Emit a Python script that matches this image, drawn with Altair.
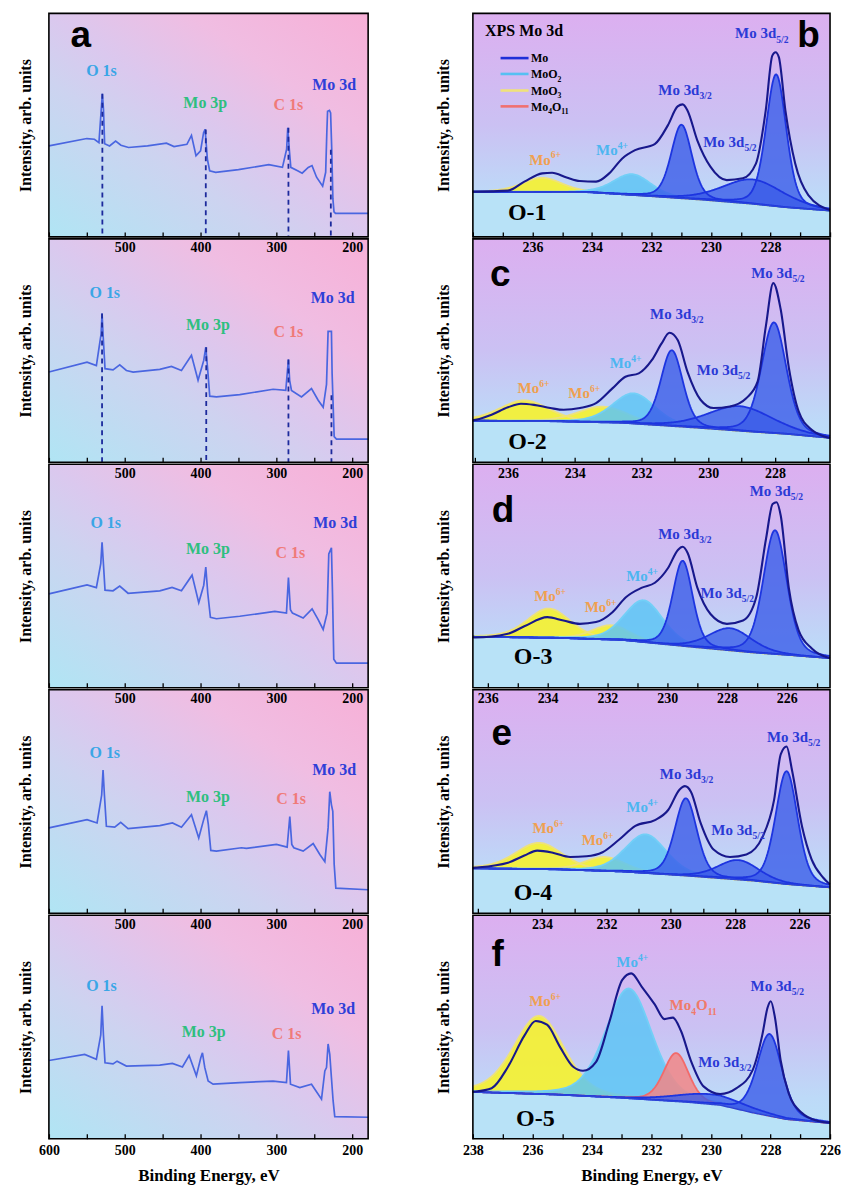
import altair as alt
import numpy as np
import pandas as pd

SERIF = "Liberation Serif"
SANS = "Liberation Sans"
LW, RW, PH = 320, 358, 224

# ================= Survey spectra (left column) =================
s1_be = [600, 550, 540, 534, 531, 529.5, 528, 526.5, 520, 512, 505, 495, 470, 445, 435, 418, 412, 406, 400, 396,
         394, 391, 388, 380, 350, 310, 292, 286.5, 285, 283, 281, 272, 266, 258, 253, 247, 239, 235, 233.5, 232.5,
         230, 228.5, 227, 225.5, 224, 222, 179]
s1_i = [40.7, 44.0, 43.7, 42.2, 56.9, 64.0, 56.9, 41.7, 40.7, 42.9, 41.0, 40.0, 40.7, 41.9, 40.4, 41.4, 45.4, 36.3, 38.5, 46.6,
        48.1, 34.8, 29.6, 28.9, 30.1, 32.3, 31.1, 39.2, 48.8, 39.2, 31.1, 29.6, 28.5, 31.1, 31.9, 26.7, 22.7, 28.9, 46.6, 56.2,
        56.6, 55.5, 39.2, 17.1, 11.2, 10.5, 10.5]

s2_be = [600, 549.7, 537.4, 531.2, 529.9, 528.6, 526, 515.4, 506.6, 497.8, 489, 453.8, 438.4, 425.2, 412, 403.3, 395.8,
         393.1, 390.5, 387.9, 379.1, 348.3, 304.3, 287.6, 285.4, 284.1, 282.5, 280.1, 266.9, 253.7, 244.9, 238.3, 233.9,
         231.8, 227.4, 226.5, 223.8, 220.8, 179]
s2_i = [40.4, 44.8, 43.3, 57.4, 66.6, 57.4, 41.9, 41.4, 43.6, 41.1, 40.4, 41.6, 42.9, 41.1, 47.9, 36.7, 45.6, 51.5, 41.1, 29.6,
        29.3, 30.3, 32.7, 32.2, 41.1, 46.0, 36.7, 32.2, 29.3, 33.0, 27.8, 24.6, 34.9, 58.6, 58.6, 39.6, 11.5, 10.4, 10.4]

s3_be = [600, 549.7, 537.4, 531.6, 529.9, 528.1, 526, 515.4, 506.6, 495.6, 453.8, 437.6, 425.2, 411.2, 402.4, 395.8, 393.1,
         390.5, 387, 379.1, 348.3, 302.1, 286.7, 284.1, 281.5, 278.8, 264.7, 252.9, 244.9, 238.3, 233.1, 230.9, 227.4,
         226, 224.3, 220.8, 179]
s3_i = [42.0, 46.0, 44.8, 55.5, 65.1, 55.5, 43.7, 43.4, 45.5, 42.3, 43.4, 44.9, 43.4, 50.4, 38.1, 45.9, 54.0, 42.3, 31.5, 30.9,
        32.0, 34.2, 33.4, 49.3, 34.9, 33.4, 31.2, 35.3, 30.5, 26.1, 33.4, 59.9, 62.6, 42.3, 12.8, 11.0, 11.0]

s4_be = [600, 549.7, 536.5, 530.4, 528.6, 526.8, 524.2, 513.2, 505.3, 495.6, 453.8, 437.1, 425.2, 412, 402.4, 395.8, 392.3,
         389.7, 386.5, 379.1, 346.1, 339.5, 299.9, 285.8, 282.3, 279.7, 277, 264.7, 251.5, 242.7, 236.1, 231.8, 229.6,
         227.4, 225.6, 223.8, 221.6, 179]
s4_i = [38.2, 41.9, 40.4, 52.9, 64.1, 52.9, 38.9, 38.5, 40.7, 37.9, 39.2, 40.4, 38.5, 44.1, 33.7, 42.0, 45.9, 39.6, 28.1, 27.8,
        29.3, 29.0, 30.8, 29.6, 43.3, 30.8, 29.3, 27.8, 31.2, 26.3, 23.1, 38.2, 54.4, 48.5, 45.6, 21.9, 11.2, 10.5]

s5_be = [600, 552.8, 537.4, 531.6, 529.9, 528.1, 526, 515.4, 510.1, 497.8, 453.8, 437.1, 423.9, 415.1, 405.5, 399.7, 397.5,
         394.4, 390, 383.5, 348.3, 304.3, 286.7, 284.1, 281.4, 269.1, 253.7, 240.5, 236.1, 233.9, 231.8, 229.6, 227.4,
         225.2, 223, 179]
s5_i = [35.0, 37.7, 35.5, 46.5, 59.5, 46.5, 34.0, 33.5, 34.7, 32.5, 32.9, 33.7, 32.1, 37.2, 28.1, 36.2, 38.4, 31.8, 25.8, 24.4,
        25.1, 25.8, 25.1, 39.4, 24.4, 22.9, 24.4, 17.7, 30.3, 31.8, 42.4, 37.7, 27.3, 17.0, 9.9, 9.6]

survey_names = ["O 1s", "Mo 3p", "C 1s", "Mo 3d"]
survey_colors = ["#3aa6e6", "#2fbf7f", "#f07a78", "#2f3fd8"]
lab1_be, lab1_i = [530.7, 393.8, 284.2, 223.7], [71.8, 57.8, 56.8, 65.6]
lab2_be, lab2_i = [526.3, 390.4, 284.2, 225.9], [73.5, 59.3, 56.3, 71.1]
lab3_be, lab3_i = [525.0, 390.4, 281.6, 222.4], [71.7, 59.9, 58.0, 71.7]
lab4_be, lab4_i = [526.3, 390.4, 280.7, 223.7], [69.5, 50.0, 48.8, 61.8]
lab5_be, lab5_i = [530.7, 396.0, 286.4, 225.0], [66.2, 45.6, 44.6, 55.6]

dash1_be, dash1_top = [529.5, 393.1, 284.1, 228.2], [64.0, 48.1, 48.8, 39.0]
dash2_be, dash2_top = [529.9, 392.5, 284.1, 227.4], [66.6, 51.5, 46.0, 30.0]

survey_dom = [179, 600]
survey_ticks = list(range(200, 601, 50))
survey_top_vals = [200, 300, 400, 500]

# ================= Mo 3d high resolution (right column) =================
b_dom, c_dom, d_dom, e_dom, f_dom = (226.0, 238.0), (226.35, 237.05), (224.55, 236.5), (225.05, 236.15), (226.0, 238.0)

b_bg_be = [238.0, 234.08, 231.88, 230.24, 228.59, 227.49, 226.0]
b_bg_i = [20.2, 19.9, 18.0, 16.5, 14.7, 13.2, 11.7]
c_bg_be = [237.05, 234.53, 232.57, 230.62, 228.66, 227.68, 226.35]
c_bg_i = [18.6, 18.3, 17.6, 15.7, 13.6, 12.7, 10.9]
d_bg_be = [236.5, 233.69, 231.5, 229.31, 227.13, 226.03, 224.55]
d_bg_i = [22.8, 22.3, 21.3, 18.4, 15.7, 14.7, 13.2]
e_bg_be = [236.15, 233.54, 231.51, 229.48, 227.45, 226.43, 225.05]
e_bg_i = [20.1, 19.6, 18.6, 16.7, 14.5, 13.0, 11.5]
f_bg_be = [238.0, 235.18, 232.98, 230.78, 229.69, 228.59, 227.49, 226.0]
f_bg_i = [20.9, 19.7, 18.2, 16.3, 15.0, 11.6, 8.7, 6.9]

b_env_be = [238.0, 236.82, 236.27, 235.67, 235.34, 234.85, 234.41, 233.86, 233.42, 232.98, 232.55, 231.89, 231.45,
            231.12, 230.95, 230.79, 230.46, 230.02, 229.47, 228.93, 228.49, 228.16, 227.94, 227.83, 227.72, 227.5,
            227.17, 226.73, 226.0]
b_env_i = [20.2, 20.7, 24.7, 28.4, 28.7, 26.6, 25.0, 24.7, 28.4, 35.1, 38.8, 41.5, 49.9, 58.4, 59.3, 56.6, 43.2, 31.4,
           25.4, 26.2, 32.8, 56.6, 81.1, 82.6, 80.4, 56.6, 32.8, 18.7, 12.0]
c_env_be = [237.05, 236.93, 236.49, 236.0, 235.61, 235.22, 234.73, 234.33, 233.84, 233.36, 232.87, 232.48, 232.08,
            231.69, 231.4, 231.16, 230.91, 230.62, 230.23, 229.84, 229.35, 228.86, 228.52, 228.27, 228.05, 227.83,
            227.58, 227.29, 226.9, 226.36]
c_env_i = [18.8, 19.1, 21.3, 24.6, 26.2, 25.7, 24.3, 23.5, 24.3, 26.5, 33.1, 38.3, 39.8, 45.7, 53.1, 58.0, 54.6, 40.5,
           28.0, 24.3, 25.0, 28.7, 36.1, 61.2, 80.2, 68.6, 42.0, 22.8, 14.6, 10.9]
d_env_be = [236.5, 236.42, 235.33, 234.78, 234.01, 233.47, 232.92, 232.38, 231.83, 231.39, 230.84, 230.41, 229.97,
            229.64, 229.48, 229.31, 228.99, 228.55, 228.0, 227.46, 227.02, 226.69, 226.47, 226.34, 226.2, 225.93,
            225.6, 225.16, 224.56]
d_env_i = [22.6, 22.5, 24.2, 27.5, 31.6, 30.1, 28.6, 29.4, 33.8, 40.4, 44.8, 47.0, 53.6, 61.7, 63.1, 60.2, 44.8, 33.0,
           28.6, 30.1, 40.4, 66.8, 82.2, 83.0, 77.1, 44.8, 25.7, 17.6, 13.2]
e_env_be = [236.15, 236.07, 235.06, 234.55, 234.15, 233.64, 233.13, 232.62, 232.12, 231.61, 231.1, 230.49, 230.08,
            229.73, 229.56, 229.37, 229.07, 228.67, 228.16, 227.65, 227.14, 226.79, 226.58, 226.4, 226.23, 225.92,
            225.62, 225.26, 225.06]
e_env_i = [20.3, 20.4, 22.6, 25.8, 28.0, 27.0, 25.2, 25.5, 27.3, 32.9, 39.1, 41.7, 46.2, 55.3, 56.9, 54.3, 40.3, 28.5,
           25.2, 26.3, 34.4, 50.6, 71.2, 74.6, 63.9, 38.8, 24.0, 15.9, 13.0]
f_env_be = [238.0, 237.92, 237.37, 236.82, 236.27, 235.89, 235.51, 235.07, 234.63, 234.3, 233.86, 233.42, 232.98,
            232.68, 232.33, 231.89, 231.56, 231.28, 231.01, 230.68, 230.24, 229.69, 229.14, 228.6, 228.27, 228.1,
            227.99, 227.85, 227.66, 227.39, 226.95, 226.4, 226.02]
f_env_i = [21.0, 21.1, 22.6, 32.2, 46.1, 52.7, 51.0, 41.0, 32.2, 30.4, 34.4, 52.0, 71.1, 74.0, 68.1, 60.1, 53.5, 54.2,
           48.3, 35.1, 23.3, 20.0, 22.6, 30.7, 46.8, 58.6, 61.5, 54.2, 35.1, 20.4, 11.6, 7.9, 7.2]

# fitted components: species, centre (eV), height above background, FWHM (eV)
b_kind = ["MoO3", "MoO2", "Mo", "Mo", "Mo"]
b_center = [235.67, 232.65, 230.99, 228.6, 227.81]
b_height = [6.4, 9.4, 33.0, 11.0, 59.1]
b_fwhm = [1.6, 1.5, 0.82, 2.4, 0.8]
c_kind = ["MoO3", "MoO3", "MoO2", "Mo", "Mo", "Mo"]
c_center = [235.51, 233.16, 232.23, 231.09, 229.05, 228.03]
c_height = [9.3, 7.1, 13.6, 34.0, 11.1, 49.6]
c_fwhm = [1.75, 1.75, 1.5, 0.78, 2.3, 0.88]
d_kind = ["MoO3", "MoO3", "MoO2", "Mo", "Mo", "Mo"]
d_center = [233.96, 231.88, 230.79, 229.48, 227.89, 226.39]
d_height = [13.1, 6.5, 18.8, 38.2, 10.0, 55.5]
d_fwhm = [1.7, 1.5, 1.53, 0.79, 1.7, 0.93]
e_kind = ["MoO3", "MoO3", "MoO2", "Mo", "Mo", "Mo"]
e_center = [234.1, 232.06, 230.78, 229.53, 227.9, 226.4]
e_height = [11.8, 6.3, 17.4, 34.7, 8.8, 50.6]
e_fwhm = [1.73, 1.5, 1.52, 0.81, 1.52, 0.81]
f_kind = ["MoO3", "MoO2", "Mo4O11", "Mo", "Mo"]
f_center = [235.78, 232.76, 231.17, 230.0, 228.03]
f_height = [35.0, 49.2, 21.7, 4.5, 36.7]
f_fwhm = [2.0, 1.86, 0.99, 2.8, 0.99]

b_lab_kind = ["d52", "d32", "d52", "mo4", "mo6"]
b_lab_be = [229.19, 231.77, 230.26, 233.86, 236.11]
b_lab_i = [88.8, 63.7, 40.1, 36.7, 32.3]
c_lab_kind = ["d52", "d32", "d52", "mo4", "mo6", "mo6"]
c_lab_be = [228.71, 231.74, 230.34, 232.95, 235.71, 234.19]
c_lab_i = [82.6, 64.2, 39.1, 42.0, 31.0, 28.8]
d_lab_kind = ["d52", "d32", "d52", "mo4", "mo6", "mo6"]
d_lab_be = [227.24, 230.30, 228.88, 231.37, 234.45, 232.76]
d_lab_i = [86.0, 66.8, 40.3, 47.6, 38.8, 33.9]
e_lab_kind = ["d52", "d32", "d52", "mo4", "mo6", "mo6"]
e_lab_be = [227.01, 230.34, 228.74, 231.38, 234.30, 232.77]
e_lab_i = [76.8, 60.2, 35.1, 45.1, 36.0, 30.4]
f_lab_kind = ["mo4", "mo6", "m411", "d52", "d32"]
f_lab_be = [233.18, 236.11, 231.39, 228.67, 230.43]
f_lab_i = [76.8, 59.2, 57.4, 66.2, 32.0]

sample_names = ["O-1", "O-2", "O-3", "O-4", "O-5"]
sample_be = [236.82, 235.99, 235.13, 234.88, 236.55]
sample_i = [7.7, 5.9, 10.8, 6.0, 5.8]

letters_right = ["b", "c", "d", "e", "f"]
letters_be = [226.72, 236.23, 235.49, 235.25, 237.17]
letters_i = [85.0, 78.9, 74.2, 75.4, 77.3]
letter_a = ("a", 557.9, 85.1)

top_vals = [None, [228, 230, 232, 234, 236], [228, 230, 232, 234, 236],
            [226, 228, 230, 232, 234, 236], [226, 228, 230, 232, 234]]

legend_names = ["Mo", "MoO2", "MoO3", "Mo4O11"]
legend_i = [80.0, 72.9, 65.5, 58.4]
legend_be = (237.07, 236.13, 236.05)
xps_title = ("XPS Mo 3d", 237.59, 89.8)

# ---------------- styles ----------------
FILL = {"Mo": "#3b5de8", "MoO2": "#5ec4f4", "MoO3": "#f6f22e", "Mo4O11": "#f28686"}
OPAC = {"Mo": 0.8, "MoO2": 0.85, "MoO3": 0.9, "Mo4O11": 0.85}
LINE = {"Mo": "#1d35e0", "MoO2": "#72cff7", "MoO3": "#eee27a", "Mo4O11": "#f26a6a"}
LEG = {"Mo": "#1f2fd8", "MoO2": "#56c0f2", "MoO3": "#f0e27a", "Mo4O11": "#f07070"}
LABC = {"d52": "#2b3ad6", "d32": "#2b3ad6", "mo4": "#4cb6f0", "mo6": "#f0a050", "m411": "#f07a6a"}
SEGS = {
    "d52": [("Mo 3d", "n"), ("5/2", "sub")],
    "d32": [("Mo 3d", "n"), ("3/2", "sub")],
    "mo4": [("Mo", "n"), ("4+", "sup")],
    "mo6": [("Mo", "n"), ("6+", "sup")],
    "m411": [("Mo", "n"), ("4", "sub"), ("O", "n"), ("11", "sub")],
    "Mo": [("Mo", "n")],
    "MoO2": [("MoO", "n"), ("2", "sub")],
    "MoO3": [("MoO", "n"), ("3", "sub")],
    "Mo4O11": [("Mo", "n"), ("4", "sub"), ("O", "n"), ("11", "sub")],
}
TB = {" ": 250, "+": 570, "-": 333, "/": 278, "M": 944, "O": 778, "o": 500, "d": 556, "X": 722, "P": 611, "S": 556}


def tw(s, size):
    return sum(TB.get(ch, 500) for ch in s) * size / 1000.0


def rich_rows(be0, i0, segs, size, color, ppe, ppi):
    rows, cur = [], 0.0
    for txt, kind in segs:
        if kind == "n":
            fs, dy = size, 0.0
        elif kind == "sub":
            fs, dy = size * 0.64, size * 0.28
        else:
            fs, dy = size * 0.64, -size * 0.42
        rows.append(dict(be=be0 - cur / ppe, i=i0 - dy / ppi, txt=txt, size=fs, color=color))
        cur += tw(txt, fs)
    return rows


def pv(x, c, h, w, m=0.3):
    d = (x - c) / w
    return h * ((1 - m) * np.exp(-4 * np.log(2) * d * d) + m / (1 + 4 * d * d))


ONE = pd.DataFrame({"o": [0]})

GRAD_L = {"gradient": "linear", "x1": 0, "y1": 1, "x2": 1, "y2": 0,
          "stops": [{"offset": 0, "color": "#b0e5f4"}, {"offset": 0.35, "color": "#cdd3f0"},
                    {"offset": 0.5, "color": "#dbc8ee"}, {"offset": 0.72, "color": "#f0bde2"},
                    {"offset": 1, "color": "#f7b0d7"}]}
GRAD_R = {"gradient": "linear", "x1": 0, "y1": 0, "x2": 0, "y2": 1,
          "stops": [{"offset": 0, "color": "#dcaff0"}, {"offset": 0.5, "color": "#cbc1f3"},
                    {"offset": 0.82, "color": "#bddaf8"}, {"offset": 1, "color": "#b8e2f7"}]}


def frame_and_bg(w, grad):
    bgr = alt.Chart(ONE).mark_rect(color=grad).encode(
        x=alt.value(0), x2=alt.value(w), y=alt.value(0), y2=alt.value(PH))
    frm = alt.Chart(ONE).mark_rect(fillOpacity=0, stroke="black", strokeWidth=1.6).encode(
        x=alt.value(0), x2=alt.value(w), y=alt.value(0), y2=alt.value(PH))
    return bgr, frm


def y_enc(pad):
    return alt.Y("i:Q", scale=alt.Scale(domain=[0, 100], nice=False, zero=False),
                 axis=alt.Axis(labels=False, ticks=False, domain=False, grid=False,
                               title="Intensity, arb. units", titleFontSize=16, titlePadding=pad))


def top_axis_layer(dom, vals):
    return alt.Chart(pd.DataFrame({"t": [dom[0], dom[1]]})).mark_point(opacity=0).encode(
        x=alt.X("t:Q", scale=alt.Scale(domain=list(dom), reverse=True, nice=False, zero=False),
                axis=alt.Axis(orient="top", values=vals, ticks=False, tickSize=0, domain=False, grid=False,
                              labelPadding=-16, labelFlush=False, labelFontSize=14, title=None, zindex=2)))


def bottom_axis(vals, last, expr):
    return alt.Axis(values=vals, labels=last, labelExpr=expr,
                    tickSize={"expr": "-5"}, tickWidth=1.3, tickColor="black", domain=False, grid=False,
                    labelFlush=False, labelPadding=10, labelFontSize=14, zindex=2,
                    title=("Binding Energy, eV" if last else None), titleFontSize=17, titlePadding=10)


SURVEY = [
    (s1_be, s1_i, lab1_be, lab1_i, dash1_be, dash1_top),
    (s2_be, s2_i, lab2_be, lab2_i, dash2_be, dash2_top),
    (s3_be, s3_i, lab3_be, lab3_i, [], []),
    (s4_be, s4_i, lab4_be, lab4_i, [], []),
    (s5_be, s5_i, lab5_be, lab5_i, [], []),
]


def left_panel(k):
    be, ii, lbe, li, dbe, dtop = SURVEY[k]
    last = k == 4
    X = alt.X("be:Q", scale=alt.Scale(domain=survey_dom, reverse=True, nice=False, zero=False),
              axis=bottom_axis(survey_ticks, last, "datum.value % 100 == 0 ? datum.label : ''"))
    Y = y_enc(15)
    bgr, frm = frame_and_bg(LW, GRAD_L)
    layers = [bgr]
    layers.append(alt.Chart(pd.DataFrame({"be": be, "i": ii})).mark_line(
        color="#4a66e0", strokeWidth=1.7).encode(x=X, y=Y))
    if dbe:
        layers.append(alt.Chart(pd.DataFrame({"be": dbe, "i": dtop, "i2": [0] * len(dbe)})).mark_rule(
            color="#1c2a9c", strokeWidth=1.8, strokeDash=[5, 4]).encode(x=X, y=Y, y2=alt.Y2("i2")))
    layers.append(alt.Chart(pd.DataFrame({"be": lbe, "i": li, "txt": survey_names, "color": survey_colors}))
                  .mark_text(font=SERIF, fontWeight="bold", fontSize=16, align="center", baseline="alphabetic")
                  .encode(x=X, y=Y, text="txt:N", color=alt.Color("color:N", scale=None)))
    if k == 0:
        layers.append(alt.Chart(pd.DataFrame({"be": [letter_a[1]], "i": [letter_a[2]], "txt": [letter_a[0]]}))
                      .mark_text(font=SANS, fontWeight="bold", fontSize=37, align="center", baseline="alphabetic",
                                 color="black").encode(x=X, y=Y, text="txt:N"))
    layers.append(frm)
    inner = alt.layer(*layers)
    if k == 0:
        return inner.properties(width=LW, height=PH)
    return alt.layer(inner, top_axis_layer(survey_dom, survey_top_vals)).resolve_scale(
        x="independent").properties(width=LW, height=PH)


RIGHT = [
    (b_dom, b_bg_be, b_bg_i, b_env_be, b_env_i, b_kind, b_center, b_height, b_fwhm, b_lab_kind, b_lab_be, b_lab_i),
    (c_dom, c_bg_be, c_bg_i, c_env_be, c_env_i, c_kind, c_center, c_height, c_fwhm, c_lab_kind, c_lab_be, c_lab_i),
    (d_dom, d_bg_be, d_bg_i, d_env_be, d_env_i, d_kind, d_center, d_height, d_fwhm, d_lab_kind, d_lab_be, d_lab_i),
    (e_dom, e_bg_be, e_bg_i, e_env_be, e_env_i, e_kind, e_center, e_height, e_fwhm, e_lab_kind, e_lab_be, e_lab_i),
    (f_dom, f_bg_be, f_bg_i, f_env_be, f_env_i, f_kind, f_center, f_height, f_fwhm, f_lab_kind, f_lab_be, f_lab_i),
]


def right_panel(k):
    (dom, bgx, bgy, envx, envy, kinds, cen, hei, fw, lk, lbe, li) = RIGHT[k]
    lo, hi = dom
    last = k == 4
    ppe = RW / (hi - lo)
    ppi = PH / 100.0
    ticks = list(range(int(np.ceil(lo)), int(np.floor(hi)) + 1))
    X = alt.X("be:Q", scale=alt.Scale(domain=[lo, hi], reverse=True, nice=False, zero=False),
              axis=bottom_axis(ticks, last, "datum.value % 2 == 0 ? datum.label : ''"))
    Y = y_enc(21)
    grid = np.linspace(lo, hi, 361)
    order = np.argsort(bgx)
    bg = np.interp(grid, np.array(bgx)[order], np.array(bgy)[order])

    bgr, frm = frame_and_bg(RW, GRAD_R)
    layers = [bgr]
    layers.append(alt.Chart(pd.DataFrame({"be": grid, "i": bg, "i2": 0.0})).mark_area(
        color="#b8e2f7").encode(x=X, y=Y, y2=alt.Y2("i2")))
    for kind in ["MoO3", "MoO2", "Mo4O11", "Mo"]:
        rows = []
        for n, (kd, c, h, w) in enumerate(zip(kinds, cen, hei, fw)):
            if kd != kind:
                continue
            top = bg + pv(grid, c, h, w)
            rows.append(pd.DataFrame({"be": grid, "i": top, "i2": bg, "comp": n}))
        if not rows:
            continue
        df = pd.concat(rows)
        layers.append(alt.Chart(df).mark_area(color=FILL[kind], opacity=OPAC[kind]).encode(
            x=X, y=Y, y2=alt.Y2("i2"), detail="comp:N"))
        layers.append(alt.Chart(df).mark_line(color=LINE[kind], strokeWidth=1.8).encode(
            x=X, y=Y, detail="comp:N"))
    layers.append(alt.Chart(pd.DataFrame({"be": grid, "i": bg})).mark_line(
        color="#2c44d6", strokeWidth=1.4).encode(x=X, y=Y))
    layers.append(alt.Chart(pd.DataFrame({"be": envx, "i": envy})).mark_line(
        color="#18188c", strokeWidth=2.1, interpolate="monotone").encode(x=X, y=Y))

    trows = []
    for kd, b0, i0 in zip(lk, lbe, li):
        trows += rich_rows(b0, i0, SEGS[kd], 15, LABC[kd], ppe, ppi)
    if k == 0:
        trows += rich_rows(xps_title[1], xps_title[2], [(xps_title[0], "n")], 16, "black", ppe, ppi)
        for nm, iy in zip(legend_names, legend_i):
            trows += rich_rows(legend_be[2], iy - 1.9, SEGS[nm], 12, "black", ppe, ppi)
        layers.append(alt.Chart(pd.DataFrame({"be": [legend_be[0]] * 4, "be2": [legend_be[1]] * 4,
                                              "i": legend_i, "color": [LEG[n] for n in legend_names]}))
                      .mark_rule(strokeWidth=2.6).encode(x=X, x2=alt.X2("be2"), y=Y,
                                                         color=alt.Color("color:N", scale=None)))
    layers.append(alt.Chart(pd.DataFrame(trows)).mark_text(
        font=SERIF, fontWeight="bold", align="left", baseline="alphabetic").encode(
        x=X, y=Y, text="txt:N", size=alt.Size("size:Q", scale=None), color=alt.Color("color:N", scale=None)))
    layers.append(alt.Chart(pd.DataFrame({"be": [sample_be[k]], "i": [sample_i[k]], "txt": [sample_names[k]]}))
                  .mark_text(font=SERIF, fontWeight="bold", fontSize=24, align="left", baseline="alphabetic",
                             color="black").encode(x=X, y=Y, text="txt:N"))
    layers.append(alt.Chart(pd.DataFrame({"be": [letters_be[k]], "i": [letters_i[k]], "txt": [letters_right[k]]}))
                  .mark_text(font=SANS, fontWeight="bold", fontSize=37, align="center", baseline="alphabetic",
                             color="black").encode(x=X, y=Y, text="txt:N"))
    layers.append(frm)
    inner = alt.layer(*layers)
    if k == 0:
        return inner.properties(width=RW, height=PH)
    return alt.layer(inner, top_axis_layer(RIGHT[k - 1][0], top_vals[k])).resolve_scale(
        x="independent").properties(width=RW, height=PH)


left_col = alt.vconcat(*[left_panel(k) for k in range(5)], spacing=0)
right_col = alt.vconcat(*[right_panel(k) for k in range(5)], spacing=0)

chart = alt.hconcat(left_col, right_col, spacing=64).properties(
    padding={"left": 10, "top": 3, "right": 0, "bottom": 1}
).configure_view(strokeWidth=0).configure_axis(
    labelFont=SERIF, labelFontWeight="bold", labelColor="black",
    titleFont=SERIF, titleFontWeight="bold", titleColor="black"
)

chart.save("out.html", embed_options={"renderer": "svg", "actions": False})
